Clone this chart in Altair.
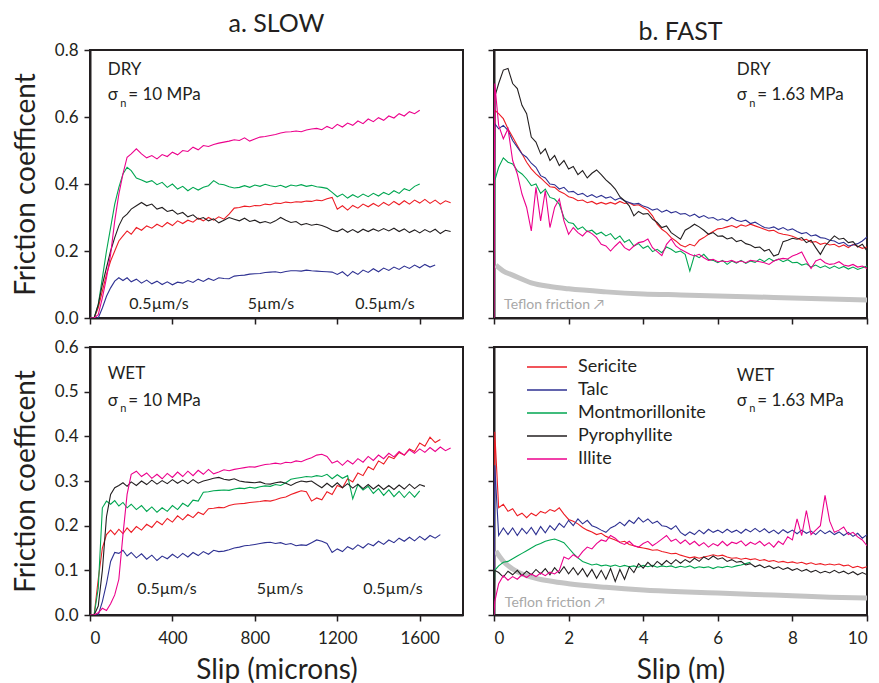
import altair as alt
import pandas as pd

FONT = "Lato"
INK = "#231f20"
MINERALS = ["Sericite", "Talc", "Montmorillonite", "Pyrophyllite", "Illite"]
COLORS = ["#ed1c24", "#2e3192", "#00a651", "#231f20", "#ec008c"]

# ---------------- SLOW experiments (slip in microns) ----------------
SLOW_X = [0, 20, 40, 60, 80, 100, 120, 140, 160, 180, 200,
          225, 250, 275, 300, 325, 350, 375, 400, 425, 450, 475, 500,
          525, 550, 575, 600, 625, 650, 675, 700, 725, 750, 775, 800,
          825, 850, 875, 900, 925, 950, 975, 1000, 1025, 1050, 1075, 1100,
          1125, 1150, 1175, 1200, 1225, 1250, 1275, 1300, 1325, 1350, 1375, 1400,
          1425, 1450, 1475, 1500, 1525, 1550, 1575, 1600, 1625, 1650, 1675, 1700,
          1725, 1750]

N = None
SLOW_DRY = {
    "Illite": [0, 0, 0.01, 0.06, 0.12, 0.19, 0.29, 0.37, 0.43, 0.48, 0.49,
               0.505, 0.49, 0.478, 0.485, 0.475, 0.488, 0.482, 0.495, 0.487, 0.50, 0.497, 0.51,
               0.502, 0.515, 0.512, 0.518, 0.522, 0.525, 0.528, 0.532, 0.53, 0.538, 0.528, 0.534,
               0.54, 0.542, 0.545, 0.548, 0.552, 0.555, 0.556, 0.558, 0.556, 0.561, 0.564, 0.566,
               0.562, 0.572, 0.565, 0.578, 0.57, 0.582, 0.575, 0.588, 0.58, 0.594, 0.586, 0.598,
               0.59, 0.603, 0.597, 0.61, 0.603, 0.616, 0.61, 0.62, N, N, N, N,
               N, N],
    "Montmorillonite": [0, 0, 0.04, 0.12, 0.2, 0.27, 0.34, 0.39, 0.43, 0.45, 0.44,
               0.418, 0.412, 0.405, 0.41, 0.398, 0.405, 0.39, 0.4, 0.385, 0.393, 0.38, 0.39,
               0.382, 0.39, 0.395, 0.41, 0.4, 0.398, 0.392, 0.388, 0.39, 0.395, 0.39, 0.397,
               0.393, 0.399, 0.395, 0.392, 0.396, 0.39, 0.397, 0.394, 0.398, 0.393, 0.396, 0.392,
               0.39, 0.387, 0.375, 0.362, 0.37, 0.358, 0.368, 0.36, 0.37, 0.362, 0.372, 0.364,
               0.375, 0.368, 0.38, 0.372, 0.386, 0.38, 0.393, 0.40, N, N, N, N,
               N, N],
    "Sericite": [0, 0, 0.03, 0.08, 0.13, 0.17, 0.2, 0.23, 0.245, 0.26, 0.25,
               0.27, 0.262, 0.275, 0.268, 0.28, 0.272, 0.285, 0.276, 0.29, 0.282, 0.292, 0.286,
               0.298, 0.29, 0.3, 0.292, 0.302, 0.295, 0.31, 0.328, 0.33, 0.334, 0.332, 0.336,
               0.335, 0.34, 0.338, 0.343, 0.342, 0.346, 0.344, 0.347, 0.346, 0.349, 0.348, 0.352,
               0.35, 0.356, 0.36, 0.325, 0.335, 0.322, 0.336, 0.328, 0.34, 0.332, 0.342, 0.333,
               0.345, 0.336, 0.348, 0.338, 0.35, 0.34, 0.352, 0.343, 0.354, 0.342, 0.352, 0.34,
               0.35, 0.344],
    "Pyrophyllite": [0, 0, 0.04, 0.1, 0.15, 0.2, 0.24, 0.275, 0.3, 0.31, 0.325,
               0.335, 0.345, 0.335, 0.34, 0.325, 0.33, 0.318, 0.322, 0.31, 0.315, 0.302, 0.308,
               0.295, 0.3, 0.29, 0.296, 0.284, 0.292, 0.3, 0.295, 0.29, 0.298, 0.288, 0.292,
               0.284, 0.288, 0.283, 0.29, 0.3, 0.292, 0.285, 0.288, 0.278, 0.282, 0.277, 0.28,
               0.276, 0.27, 0.262, 0.258, 0.266, 0.256, 0.264, 0.255, 0.265, 0.258, 0.266, 0.259,
               0.267, 0.26, 0.268, 0.258, 0.266, 0.255, 0.263, 0.254, 0.264, 0.256, 0.265, 0.252,
               0.262, 0.258],
    "Talc": [0, 0, 0, 0.03, 0.065, 0.09, 0.11, 0.12, 0.112, 0.12, 0.108,
               0.116, 0.104, 0.113, 0.102, 0.11, 0.1, 0.108, 0.099, 0.107, 0.104, 0.112, 0.106,
               0.116, 0.109, 0.118, 0.112, 0.12, 0.118, 0.117, 0.125, 0.127, 0.128, 0.131, 0.132,
               0.133, 0.136, 0.137, 0.138, 0.135, 0.139, 0.141, 0.141, 0.14, 0.143, 0.141, 0.14,
               0.139, 0.138, 0.137, 0.13, 0.138, 0.125, 0.139, 0.13, 0.143, 0.136, 0.147, 0.138,
               0.149, 0.142, 0.152, 0.145, 0.155, 0.148, 0.158, 0.15, 0.16, 0.152, 0.158, N,
               N, N],
}

SLOW_WET = {
    "Illite": [0, 0, 0.005, 0.015, 0.01, 0.025, 0.045, 0.08, 0.18, 0.27, 0.315,
               0.322, 0.31, 0.318, 0.306, 0.315, 0.305, 0.317, 0.308, 0.32, 0.31, 0.322, 0.312,
               0.324, 0.315, 0.326, 0.316, 0.32, 0.325, 0.323, 0.326, 0.328, 0.33, 0.332, 0.331,
               0.334, 0.337, 0.338, 0.34, 0.338, 0.342, 0.341, 0.345, 0.343, 0.348, 0.352, 0.358,
               0.36, 0.355, 0.34, 0.345, 0.335, 0.346, 0.338, 0.35, 0.342, 0.355, 0.346, 0.358,
               0.35, 0.362, 0.354, 0.366, 0.358, 0.37, 0.362, 0.372, 0.364, 0.375, 0.366, 0.376,
               0.368, 0.374],
    "Pyrophyllite": [0, 0, 0.02, 0.1, 0.22, 0.27, 0.285, 0.29, 0.296, 0.288, 0.298,
               0.29, 0.3, 0.292, 0.302, 0.293, 0.301, 0.294, 0.303, 0.295, 0.302, 0.294, 0.303,
               0.295, 0.3, 0.303, 0.306, 0.308, 0.304, 0.302, 0.305, 0.3, 0.298, 0.297, 0.296,
               0.298, 0.294, 0.293, 0.296, 0.298, 0.295, 0.29, 0.296, 0.3, 0.298, 0.3, 0.292,
               0.285, 0.295, 0.286, 0.296, 0.285, 0.294, 0.284, 0.293, 0.283, 0.292, 0.282, 0.291,
               0.281, 0.29, 0.281, 0.291, 0.282, 0.293, 0.283, 0.292, 0.288, N, N, N,
               N, N],
    "Montmorillonite": [0, 0, 0.06, 0.24, 0.255, 0.248, 0.256, 0.244, 0.252, 0.24, 0.248,
               0.236, 0.245, 0.232, 0.242, 0.23, 0.24, 0.232, 0.245, 0.236, 0.25, 0.243, 0.257,
               0.255, 0.275, 0.276, 0.278, 0.279, 0.28, 0.279, 0.282, 0.284, 0.283, 0.286, 0.284,
               0.287, 0.289, 0.288, 0.292, 0.29, 0.296, 0.304, 0.306, 0.308, 0.31, 0.309, 0.312,
               0.31, 0.315, 0.305, 0.314, 0.306, 0.312, 0.26, 0.292, 0.28, 0.288, 0.272, 0.283,
               0.268, 0.28, 0.265, 0.277, 0.263, 0.276, 0.264, 0.278, N, N, N, N,
               N, N],
    "Sericite": [0, 0, 0.08, 0.15, 0.18, 0.19, 0.18, 0.192, 0.182, 0.195, 0.185,
               0.198, 0.19, 0.203, 0.196, 0.21, 0.202, 0.216, 0.208, 0.222, 0.213, 0.225, 0.218,
               0.23, 0.225, 0.238, 0.239, 0.241, 0.24, 0.245, 0.248, 0.249, 0.25, 0.252, 0.253,
               0.254, 0.256, 0.255, 0.258, 0.262, 0.264, 0.27, 0.274, 0.278, 0.276, 0.255, 0.262,
               0.258, 0.276, 0.27, 0.29, 0.285, 0.305, 0.298, 0.318, 0.312, 0.332, 0.325, 0.345,
               0.338, 0.355, 0.35, 0.364, 0.358, 0.372, 0.366, 0.385, 0.378, 0.398, 0.386, 0.393,
               N, N],
    "Talc": [0, 0, 0, 0.03, 0.07, 0.12, 0.14, 0.138, 0.145, 0.132, 0.14,
               0.128, 0.137, 0.125, 0.134, 0.122, 0.132, 0.126, 0.136, 0.128, 0.138, 0.13, 0.14,
               0.133, 0.142, 0.136, 0.145, 0.142, 0.143, 0.146, 0.15, 0.152, 0.155, 0.156, 0.158,
               0.16, 0.162, 0.163, 0.16, 0.162, 0.158, 0.16, 0.155, 0.157, 0.156, 0.162, 0.168,
               0.165, 0.16, 0.14, 0.148, 0.142, 0.153, 0.147, 0.157, 0.15, 0.16, 0.155, 0.165,
               0.158, 0.168, 0.162, 0.172, 0.165, 0.174, 0.166, 0.176, 0.168, 0.178, 0.172, 0.18,
               N, N],
}

# ---------------- FAST experiments (slip in metres) ----------------
FAST_X = [0, 0.02,
          0.125, 0.25, 0.375, 0.5, 0.625, 0.75, 0.875, 1.0,
          1.125, 1.25, 1.375, 1.5, 1.625, 1.75, 1.875, 2.0,
          2.125, 2.25, 2.375, 2.5, 2.625, 2.75, 2.875, 3.0,
          3.125, 3.25, 3.375, 3.5, 3.625, 3.75, 3.875, 4.0,
          4.125, 4.25, 4.375, 4.5, 4.625, 4.75, 4.875, 5.0,
          5.125, 5.25, 5.375, 5.5, 5.625, 5.75, 5.875, 6.0,
          6.125, 6.25, 6.375, 6.5, 6.625, 6.75, 6.875, 7.0,
          7.125, 7.25, 7.375, 7.5, 7.625, 7.75, 7.875, 8.0,
          8.125, 8.25, 8.375, 8.5, 8.625, 8.75, 8.875, 9.0,
          9.125, 9.25, 9.375, 9.5, 9.625, 9.75, 9.875, 10.0]

FAST_DRY = {
    "Montmorillonite": [0, 0.41,
               0.45, 0.478, 0.465, 0.46, 0.44, 0.43, 0.415, 0.395,
               0.4, 0.372, 0.385, 0.36, 0.355, 0.34, 0.3, 0.285,
               0.282, 0.265, 0.272, 0.258, 0.262, 0.25, 0.256, 0.245,
               0.252, 0.235, 0.245, 0.226, 0.234, 0.215, 0.222, 0.208,
               0.215, 0.198, 0.205, 0.195, 0.212, 0.205, 0.196, 0.2,
               0.19, 0.14, 0.188, 0.18, 0.19, 0.175, 0.172, 0.165,
               0.172, 0.16, 0.17, 0.164, 0.172, 0.163, 0.17, 0.166,
               0.176, 0.168, 0.178, 0.17, 0.176, 0.168, 0.174, 0.165,
               0.166, 0.158, 0.162, 0.152, 0.158, 0.15, 0.156, 0.148,
               0.155, 0.148, 0.154, 0.146, 0.152, 0.145, 0.15, 0.155],
    "Illite": [0, 0.70,
               0.575, 0.535, 0.565, 0.47, 0.43, 0.37, 0.33, 0.26,
               0.39, 0.29, 0.38, 0.27, 0.33, 0.355, 0.29, 0.25,
               0.27, 0.255, 0.245, 0.26, 0.252, 0.24, 0.22, 0.215,
               0.2, 0.215, 0.228, 0.21, 0.202, 0.215, 0.225, 0.228,
               0.236, 0.21, 0.198, 0.186, 0.22, 0.236, 0.215, 0.205,
               0.198, 0.19, 0.185, 0.19, 0.18, 0.172, 0.175, 0.168,
               0.17, 0.168, 0.172, 0.166, 0.17, 0.165, 0.172, 0.17,
               0.168, 0.165, 0.16, 0.17, 0.175, 0.178, 0.176, 0.185,
               0.19, 0.197, 0.17, 0.148, 0.17, 0.176, 0.165, 0.16,
               0.162, 0.168, 0.158, 0.155, 0.16, 0.152, 0.155, 0.148],
    "Sericite": [0, 0.62,
               0.61, 0.595, 0.565, 0.54, 0.515, 0.49, 0.465, 0.445,
               0.43, 0.418, 0.405, 0.392, 0.39, 0.378, 0.372, 0.362,
               0.358, 0.35, 0.352, 0.344, 0.348, 0.34, 0.345, 0.34,
               0.345, 0.34, 0.348, 0.342, 0.344, 0.336, 0.338, 0.33,
               0.322, 0.305, 0.28, 0.265, 0.255, 0.24, 0.23, 0.218,
               0.212, 0.22, 0.215, 0.232, 0.24, 0.25, 0.258, 0.266,
               0.268, 0.272, 0.276, 0.27, 0.278, 0.274, 0.28, 0.275,
               0.27, 0.265, 0.26, 0.262, 0.254, 0.25, 0.248, 0.244,
               0.238, 0.232, 0.235, 0.226, 0.228, 0.22, 0.224, 0.218,
               0.22, 0.212, 0.218, 0.21, 0.22, 0.214, 0.208, 0.212],
    "Talc": [0, 0.58,
               0.565, 0.575, 0.56, 0.53, 0.51, 0.49, 0.48, 0.462,
               0.45, 0.425, 0.418, 0.4, 0.398, 0.385, 0.39, 0.376,
               0.378, 0.368, 0.372, 0.362, 0.368, 0.36, 0.366, 0.358,
               0.362, 0.352, 0.358, 0.35, 0.345, 0.34, 0.342, 0.334,
               0.33, 0.322, 0.326, 0.316, 0.322, 0.314, 0.318, 0.31,
               0.312, 0.304, 0.31, 0.3, 0.306, 0.298, 0.3, 0.292,
               0.296, 0.29, 0.3, 0.292, 0.288, 0.292, 0.282, 0.286,
               0.278, 0.27, 0.268, 0.272, 0.264, 0.27, 0.262, 0.266,
               0.258, 0.252, 0.255, 0.245, 0.248, 0.24, 0.238, 0.232,
               0.23, 0.222, 0.226, 0.215, 0.218, 0.222, 0.23, 0.242],
    "Pyrophyllite": [0, 0.66,
               0.70, 0.74, 0.745, 0.70, 0.685, 0.635, 0.61, 0.54,
               0.525, 0.49, 0.505, 0.47, 0.485, 0.455, 0.47, 0.445,
               0.452, 0.428, 0.44, 0.418, 0.432, 0.442, 0.428, 0.412,
               0.40, 0.385, 0.362, 0.35, 0.335, 0.305, 0.318, 0.31,
               0.312, 0.295, 0.285, 0.27, 0.275, 0.255, 0.245, 0.235,
               0.262, 0.27, 0.28, 0.272, 0.262, 0.25, 0.255, 0.244,
               0.245, 0.236, 0.24, 0.228, 0.232, 0.222, 0.218, 0.21,
               0.212, 0.2, 0.205, 0.185, 0.19, 0.228, 0.232, 0.238,
               0.235, 0.24, 0.225, 0.232, 0.21, 0.19, 0.215, 0.23,
               0.245, 0.235, 0.238, 0.225, 0.228, 0.212, 0.22, 0.2],
}

FAST_WET = {
    "Montmorillonite": [0, 0.10,
               0.11, 0.118, 0.12, 0.126, 0.132, 0.138, 0.144, 0.15,
               0.156, 0.16, 0.165, 0.168, 0.17, 0.166, 0.162, 0.15,
               0.138, 0.128, 0.12, 0.116, 0.112, 0.114, 0.11, 0.112,
               0.109, 0.112, 0.108, 0.111, 0.108, 0.11, 0.107, 0.111,
               0.108, 0.111, 0.107, 0.11, 0.108, 0.11, 0.106, 0.109,
               0.107, 0.11, 0.105, 0.108, 0.106, 0.108, 0.104, 0.108,
               0.106, 0.109, 0.107, 0.11, 0.112, 0.115, 0.118, N,
               N, N, N, N, N, N, N, N,
               N, N, N, N, N, N, N, N,
               N, N, N, N, N, N, N, N],
    "Pyrophyllite": [0, 0.10,
               0.095, 0.085, 0.098, 0.09, 0.1, 0.088, 0.098, 0.09,
               0.102, 0.092, 0.104, 0.09, 0.106, 0.094, 0.108, 0.092,
               0.106, 0.09, 0.104, 0.086, 0.102, 0.082, 0.1, 0.08,
               0.104, 0.075, 0.102, 0.08, 0.108, 0.095, 0.115, 0.105,
               0.118, 0.108, 0.12, 0.112, 0.122, 0.114, 0.124, 0.116,
               0.124, 0.118, 0.127, 0.12, 0.13, 0.124, 0.132, 0.125,
               0.128, 0.12, 0.124, 0.118, 0.12, 0.112, 0.115, 0.108,
               0.112, 0.106, 0.11, 0.104, 0.108, 0.102, 0.106, 0.1,
               0.104, 0.098, 0.102, 0.096, 0.1, 0.094, 0.098, 0.094,
               0.1, 0.094, 0.098, 0.092, 0.097, 0.09, 0.095, 0.09],
    "Illite": [0, 0.03,
               0.07, 0.088, 0.078, 0.086, 0.08, 0.09, 0.084, 0.092,
               0.086, 0.094, 0.088, 0.096, 0.092, 0.1, 0.13, 0.125,
               0.135, 0.128, 0.142, 0.152, 0.148, 0.16, 0.168, 0.165,
               0.178, 0.172, 0.162, 0.158, 0.165, 0.155, 0.152, 0.16,
               0.165, 0.155, 0.162, 0.17, 0.178, 0.165, 0.17, 0.16,
               0.168, 0.158, 0.165, 0.155, 0.162, 0.152, 0.16, 0.155,
               0.165, 0.155, 0.163, 0.16, 0.166, 0.155, 0.163, 0.158,
               0.165, 0.155, 0.162, 0.152, 0.165, 0.158, 0.175, 0.168,
               0.215, 0.178, 0.234, 0.18, 0.19, 0.2, 0.268, 0.21,
               0.185, 0.19, 0.197, 0.18, 0.185, 0.175, 0.168, 0.155],
    "Talc": [0, 0.335,
               0.178, 0.195, 0.18, 0.195, 0.178, 0.194, 0.182, 0.196,
               0.18, 0.198, 0.184, 0.2, 0.19, 0.205, 0.196, 0.212,
               0.2, 0.215, 0.204, 0.212, 0.2, 0.196, 0.19, 0.185,
               0.195, 0.2, 0.208, 0.2, 0.212, 0.205, 0.218, 0.208,
               0.215, 0.205, 0.21, 0.2, 0.198, 0.192, 0.2, 0.185,
               0.178, 0.186, 0.18, 0.19, 0.182, 0.192, 0.185, 0.19,
               0.184, 0.192, 0.185, 0.19, 0.183, 0.192, 0.186, 0.194,
               0.186, 0.193, 0.184, 0.19, 0.182, 0.191, 0.184, 0.19,
               0.182, 0.19, 0.183, 0.188, 0.18, 0.19, 0.182, 0.188,
               0.18, 0.186, 0.178, 0.185, 0.176, 0.183, 0.172, 0.18],
    "Sericite": [0, 0.41,
               0.24, 0.248, 0.232, 0.238, 0.222, 0.228, 0.218, 0.228,
               0.222, 0.232, 0.228, 0.236, 0.232, 0.24, 0.226, 0.214,
               0.21, 0.204, 0.196, 0.19, 0.186, 0.18, 0.183, 0.176,
               0.172, 0.168, 0.163, 0.165, 0.158, 0.155, 0.152, 0.15,
               0.148, 0.145, 0.146, 0.142, 0.14, 0.137, 0.138, 0.134,
               0.131, 0.128, 0.13, 0.127, 0.13, 0.132, 0.135, 0.132,
               0.134, 0.13, 0.127, 0.128, 0.125, 0.127, 0.124, 0.126,
               0.122, 0.124, 0.12, 0.122, 0.118, 0.12, 0.117, 0.119,
               0.116, 0.118, 0.114, 0.117, 0.113, 0.115, 0.112, 0.114,
               0.112, 0.114, 0.11, 0.112, 0.106, 0.109, 0.105, 0.108],
}

TEFLON_X = [0.05, 0.25, 0.5, 1, 1.5, 2, 3, 4, 5, 6, 7, 8, 9, 10]
TEFLON_DRY = [0.158, 0.14, 0.128, 0.105, 0.094, 0.087, 0.078, 0.072, 0.069, 0.066, 0.063, 0.06, 0.057, 0.054]
TEFLON_WET = [0.143, 0.12, 0.103, 0.085, 0.076, 0.07, 0.062, 0.056, 0.052, 0.049, 0.046, 0.043, 0.04, 0.038]

# annotations: (text, x, y, kind) in data coordinates
NOTES_TL = [("DRY", 86, 0.7245, "main"), ("σ", 86, 0.65, "main"), ("n", 86, 0.65, "sub"),
            ("= 10 MPa", 86, 0.65, "rest"),
            ("0.5µm/s", 335, 0.028, "speed"), ("5µm/s", 878, 0.028, "speed"), ("0.5µm/s", 1431, 0.028, "speed")]
NOTES_BL = [("WET", 86, 0.529, "main"), ("σ", 86, 0.469, "main"), ("n", 86, 0.469, "sub"),
            ("= 10 MPa", 86, 0.469, "rest"),
            ("0.5µm/s", 374, 0.047, "speed"), ("5µm/s", 922, 0.047, "speed"), ("0.5µm/s", 1470, 0.047, "speed")]
NOTES_TR = [("DRY", 6.51, 0.7245, "main"), ("σ", 6.51, 0.65, "main"), ("n", 6.51, 0.65, "sub"),
            ("= 1.63 MPa", 6.51, 0.65, "rest"), ("Teflon friction ↗", 0.27, 0.026, "teflon")]
NOTES_BR = [("WET", 6.51, 0.525, "main"), ("σ", 6.51, 0.469, "main"), ("n", 6.51, 0.469, "sub"),
            ("= 1.63 MPa", 6.51, 0.469, "rest"), ("Teflon friction ↗", 0.29, 0.017, "teflon")]

SLOW_TICKS = [0, 400, 800, 1200, 1600]
FAST_TICKS = [0, 2, 4, 6, 8, 10]
TOP_Y_TICKS = [0.0, 0.2, 0.4, 0.6, 0.8]
BOT_Y_TICKS = [0.0, 0.1, 0.2, 0.3, 0.4, 0.5, 0.6]

W, H = 373, 268


def long_df(xs, series):
    rows = []
    for m in MINERALS:
        ys = series[m]
        for x, y in zip(xs, ys):
            if y is not None:
                rows.append({"x": x, "y": y, "mineral": m})
    return pd.DataFrame(rows)


def panel(series_df, xdom, xticks, ydom, yticks, show_xlab, show_ylab, xtitle, notes,
          teflon=None, legend=False, title=None):
    xaxis = alt.Axis(values=xticks, labels=show_xlab, format="d", title=xtitle if show_xlab else None,
                     labelPadding=9, titlePadding=10, titleFontSize=28)
    yaxis = alt.Axis(values=yticks, labels=show_ylab, format=".1f",
                     title="Friction coefficent" if show_ylab else None, labelPadding=6,
                     titlePadding=14, titleFontSize=28)
    xs = alt.Scale(domain=xdom, nice=False, zero=False)
    ys = alt.Scale(domain=ydom, nice=False)
    if legend:
        leg = alt.Legend(title=None, orient="none", legendX=32, legendY=8.5, symbolType="stroke",
                         symbolSize=1600, symbolStrokeWidth=1.6,
                         labelFontSize=18, labelFont=FONT,
                         labelColor=INK, labelOffset=10, clipHeight=23, rowPadding=0, padding=0)
    else:
        leg = None
    color = alt.Color("mineral:N", scale=alt.Scale(domain=MINERALS, range=COLORS), legend=leg)

    layers = []
    if teflon is not None:
        tdf = pd.DataFrame({"x": TEFLON_X, "y": teflon})
        layers.append(alt.Chart(tdf).mark_line(color="#c4c4c4", strokeWidth=5, interpolate="monotone",
                                               strokeCap="butt", clip=True)
                      .encode(x=alt.X("x:Q", scale=xs, axis=xaxis), y=alt.Y("y:Q", scale=ys, axis=yaxis)))
    layers.append(alt.Chart(series_df).mark_line(strokeWidth=1.1, clip=True).encode(
        x=alt.X("x:Q", scale=xs, axis=xaxis),
        y=alt.Y("y:Q", scale=ys, axis=yaxis),
        color=color,
        order=alt.Order("x:Q"),
    ))
    ndf = pd.DataFrame(notes, columns=["text", "x", "y", "kind"])
    base = alt.Chart(ndf).encode(x=alt.X("x:Q", scale=xs), y=alt.Y("y:Q", scale=ys), text="text:N")
    styles = {
        "main": dict(align="left", fontSize=17, color=INK),
        "sub": dict(align="left", fontSize=11, color=INK, dx=12.5, dy=6.5),
        "rest": dict(align="left", fontSize=17, color=INK, dx=20.5),
        "speed": dict(align="center", fontSize=16, color=INK),
        "teflon": dict(align="left", fontSize=14, color="#a8a8a8"),
    }
    for kind, st in styles.items():
        if (ndf["kind"] == kind).any():
            layers.append(base.transform_filter(alt.datum.kind == kind)
                          .mark_text(baseline="alphabetic", font=FONT, **st))
    ch = alt.layer(*layers).properties(width=W, height=H)
    if title:
        ch = ch.properties(title=alt.Title(title, fontSize=25, font=FONT, fontWeight="normal",
                                           color=INK, anchor="middle", frame="group", offset=4))
    return ch


tl = panel(long_df(SLOW_X, SLOW_DRY), [0, 1810], SLOW_TICKS, [0, 0.8], TOP_Y_TICKS,
           False, True, "Slip (microns)", NOTES_TL, title="a. SLOW")
tr = panel(long_df(FAST_X, FAST_DRY), [0, 10], FAST_TICKS, [0, 0.8], TOP_Y_TICKS,
           False, False, "Slip (m)", NOTES_TR, teflon=TEFLON_DRY, title="b. FAST")
bl = panel(long_df(SLOW_X, SLOW_WET), [0, 1810], SLOW_TICKS, [0, 0.6], BOT_Y_TICKS,
           True, True, "Slip (microns)", NOTES_BL)
br = panel(long_df(FAST_X, FAST_WET), [0, 10], FAST_TICKS, [0, 0.6], BOT_Y_TICKS,
           True, False, "Slip (m)", NOTES_BR, teflon=TEFLON_WET, legend=True)

top_row = alt.hconcat(tl, tr, spacing=22).resolve_scale(color="independent")
bottom_row = alt.hconcat(bl, br, spacing=22).resolve_scale(color="independent")

chart = alt.vconcat(top_row, bottom_row, spacing=10).resolve_scale(color="independent").properties(
    padding={"left": 3, "top": 3, "right": 0, "bottom": 0}
).configure_view(stroke=INK, strokeWidth=2).configure_axis(
    grid=False, domainColor=INK, domainWidth=2, tickColor=INK, tickWidth=1.5, tickSize=6,
    labelFont=FONT, labelFontSize=17, labelColor=INK,
    titleFont=FONT, titleFontWeight="normal", titleColor=INK,
).configure_text(font=FONT)

chart.save("out.html", embed_options={"renderer": "svg", "actions": False})
